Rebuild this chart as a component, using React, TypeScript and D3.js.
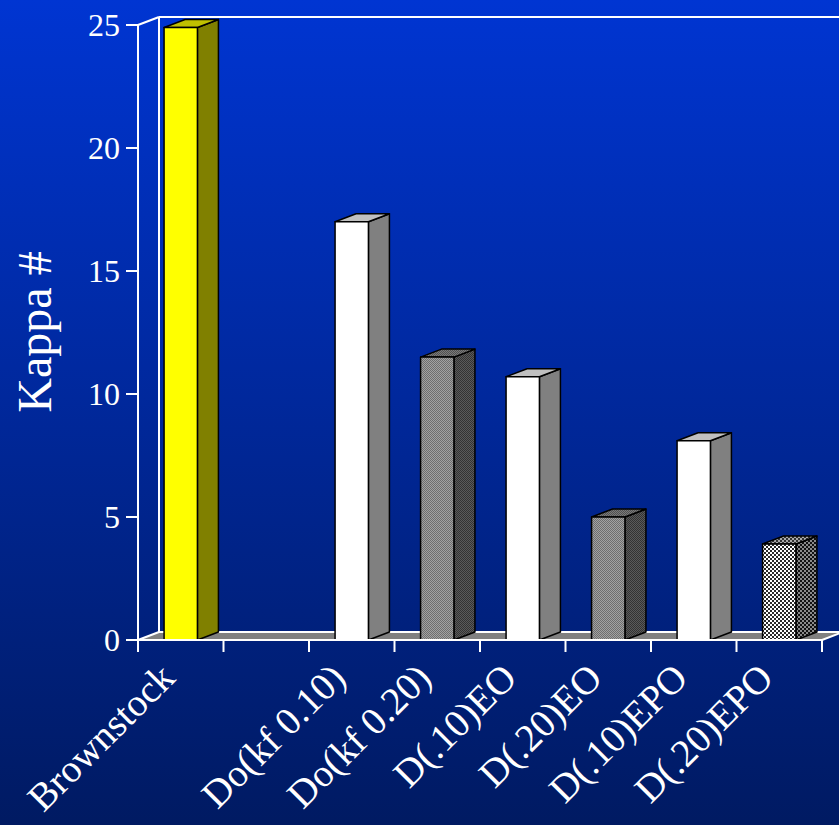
import { scaleBand, scaleLinear } from "d3";

const W = 839;
const H = 825;

const categories = [
  "Brownstock",
  "",
  "Do(kf 0.10)",
  "Do(kf 0.20)",
  "D(.10)EO",
  "D(.20)EO",
  "D(.10)EPO",
  "D(.20)EPO",
];
const kappa = [24.9, null, 17.0, 11.5, 10.7, 5.0, 8.1, 3.9];
const barKind = ["yellow", null, "white", "dots", "white", "dots", "white", "checker"];
const yTicks = [0, 5, 10, 15, 20, 25];

const serif = "'Liberation Serif', 'Times New Roman', serif";

// 3d depth offset
const dx = 21;
const dy = -8;

const faces: Record<string, { front: string; side: string; top: string }> = {
  yellow: { front: "#ffff00", side: "#808000", top: "#c0c000" },
  white: { front: "#ffffff", side: "#808080", top: "#c0c0c0" },
  dots: { front: "url(#dotsFront)", side: "url(#dotsSide)", top: "url(#dotsTop)" },
  checker: { front: "url(#chkFront)", side: "url(#chkSide)", top: "url(#chkTop)" },
};

const Checker = ({ id, a, b, size }: { id: string; a: string; b: string; size: number }) => (
  <pattern id={id} width={size * 2} height={size * 2} patternUnits="userSpaceOnUse">
    <rect width={size * 2} height={size * 2} fill={a} />
    <rect width={size} height={size} fill={b} />
    <rect x={size} y={size} width={size} height={size} fill={b} />
  </pattern>
);

const App = () => {
  const xScale = scaleBand<number>()
    .domain(categories.map((_, i) => i))
    .range([138, 822]);
  const yScale = scaleLinear().domain([0, 25]).range([640, 25]);
  const bw = xScale.bandwidth();
  const base = yScale(0);
  const xLeft = 138;
  const xRight = 822;

  return (
    <svg width={W} height={H} style={{ display: "block", position: "absolute", left: 0, top: 0 }}>
      <defs>
        <linearGradient id="bg" x1="0" y1="0" x2="0" y2="1">
          <stop offset="0" stopColor="#0035d2" />
          <stop offset="1" stopColor="#001a62" />
        </linearGradient>
        <Checker id="dotsFront" a="#a2a2a2" b="#6e6e6e" size={1} />
        <Checker id="dotsSide" a="#5a5a5a" b="#333333" size={1} />
        <Checker id="dotsTop" a="#7a7a7a" b="#505050" size={1} />
        <Checker id="chkFront" a="#ffffff" b="#2a2a2a" size={2} />
        <Checker id="chkSide" a="#8a8a8a" b="#111111" size={2} />
        <Checker id="chkTop" a="#aaaaaa" b="#333333" size={2} />
      </defs>
      <rect width={W} height={H} fill="url(#bg)" />

      {/* back wall + floor */}
      <polygon
        points={`${xLeft},${base} ${xRight},${base} ${xRight + dx},${base + dy} ${xLeft + dx},${base + dy}`}
        fill="#808080"
      />
      <g stroke="#ffffff" strokeWidth={2} fill="none">
        <line x1={xLeft + dx} x2={xLeft + dx} y1={yScale(25) + dy} y2={base + dy} />
        <line x1={xLeft + dx} x2={W + 5} y1={yScale(25) + dy} y2={yScale(25) + dy} />
        <line x1={xLeft} x2={xLeft + dx} y1={yScale(25)} y2={yScale(25) + dy} />
        <line x1={xLeft + dx} x2={xRight + dx} y1={base + dy} y2={base + dy} />
        <line x1={xLeft} x2={xLeft + dx} y1={base} y2={base + dy} />
        <line x1={xRight} x2={xRight + dx} y1={base} y2={base + dy} />
      </g>

      {/* bars */}
      {kappa.map((v, i) => {
        if (v == null) return null;
        const f = faces[barKind[i] as string];
        const x0 = (xScale(i) as number) + bw * 0.305;
        const w = bw * 0.39;
        const y0 = yScale(v);
        return (
          <g key={i} stroke="#000" strokeWidth={1.5} strokeLinejoin="round">
            <polygon
              points={`${x0 + w},${y0} ${x0 + w + dx},${y0 + dy} ${x0 + w + dx},${base + dy} ${x0 + w},${base}`}
              fill={f.side}
            />
            <polygon
              points={`${x0},${y0} ${x0 + dx},${y0 + dy} ${x0 + w + dx},${y0 + dy} ${x0 + w},${y0}`}
              fill={f.top}
            />
            <rect x={x0} y={y0} width={w} height={base - y0} fill={f.front} />
          </g>
        );
      })}

      {/* axes */}
      <g stroke="#ffffff" strokeWidth={2}>
        <line x1={xLeft} x2={xLeft} y1={yScale(25)} y2={base} />
        {yTicks.map((t) => (
          <line key={t} x1={xLeft - 12} x2={xLeft} y1={yScale(t)} y2={yScale(t)} />
        ))}
        <line x1={xLeft} x2={xRight} y1={base} y2={base} />
        {categories.map((_, i) => (
          <line key={i} x1={xScale(i) as number} x2={xScale(i) as number} y1={base} y2={base + 12} />
        ))}
        <line x1={xRight} x2={xRight} y1={base} y2={base + 12} />
      </g>
      {yTicks.map((t) => (
        <text
          key={t}
          x={120}
          y={yScale(t)}
          dy="0.34em"
          textAnchor="end"
          fill="#ffffff"
          fontFamily={serif}
          fontSize={32}
        >
          {t}
        </text>
      ))}

      <text
        transform={`translate(51,332) rotate(-90)`}
        textAnchor="middle"
        fill="#ffffff"
        fontFamily={serif}
        fontSize={48}
      >
        Kappa #
      </text>

      {categories.map((c, i) =>
        c ? (
          <text
            key={i}
            transform={`translate(${(xScale(i) as number) + bw / 2 - 4},${680}) rotate(-45)`}
            textAnchor="end"
            fill="#ffffff"
            fontFamily={serif}
            fontSize={39}
          >
            {c}
          </text>
        ) : null
      )}
    </svg>
  );
};

export default App;
